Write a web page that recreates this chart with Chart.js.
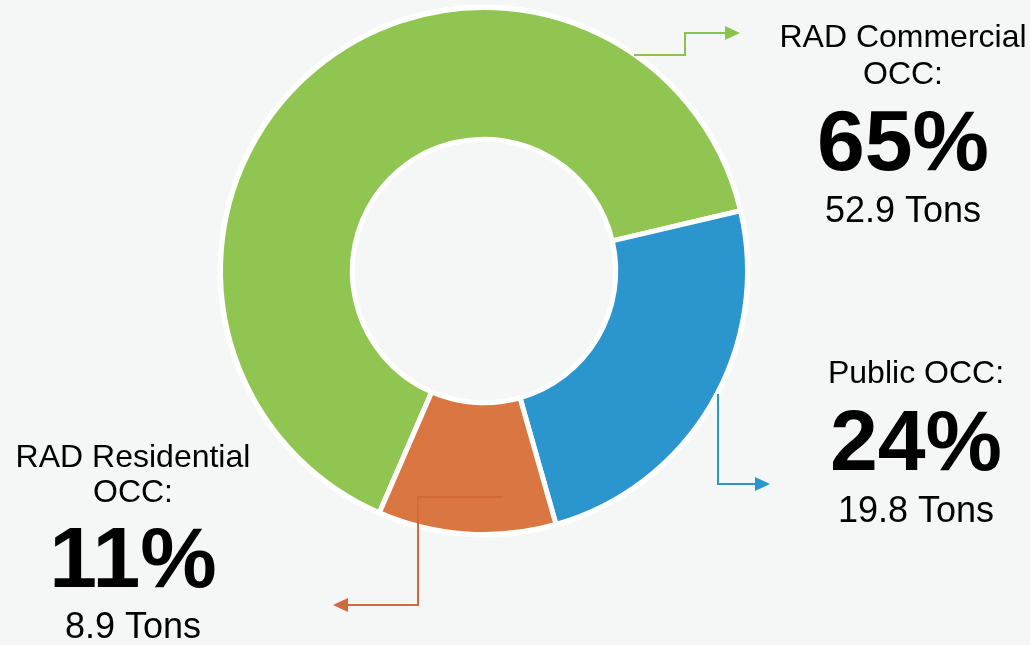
<!DOCTYPE html>
<html lang="en">
<head>
  <meta charset="UTF-8">
  <title>OCC Tonnage Share</title>
  <script src="https://cdn.jsdelivr.net/npm/chart.js"></script>
  <style>
    html, body {
      margin: 0;
      padding: 0;
      background: #f5f7f6;
    }
    .chart-container {
      position: relative;
      width: 1030px;
      height: 645px;
    }
  </style>
</head>
<body>
  <div class="chart-container">
    <canvas id="occ_share"></canvas>
  </div>

  <script>
    // data
    const categories = ['RAD Commercial OCC:', 'Public OCC:', 'RAD Residential OCC:'];
    const tons = [52.9, 19.8, 8.9];
    const percents = [65, 24, 11];
    const colors = ['#8fc550', '#2b95ce', '#d97641'];
    const lineColors = ['#8cc34c', '#2b95ce', '#d2693a'];

    // where each callout sits (label block + elbow arrow)
    const callouts = [
      { x: 903, lines: [47, 84], pct: 170, tons: 222, split: ['RAD Commercial', 'OCC:'],
        path: [[634, 55], [685, 55], [685, 33], [726, 33]], tip: [740, 33], dir: 'right' },
      { x: 916, lines: [383], pct: 470, tons: 522, split: ['Public OCC:'],
        path: [[718, 394], [718, 484], [756, 484]], tip: [770, 484], dir: 'right' },
      { x: 133, lines: [467, 502], pct: 587, tons: 638, split: ['RAD Residential', 'OCC:'],
        path: [[503, 497], [418, 497], [418, 605], [347, 605]], tip: [333, 605], dir: 'left' }
    ];

    const FONT = '"Liberation Sans", Arial, sans-serif';

    // thin white halo round the outer edge, like the original
    const haloPlugin = {
      id: 'halo',
      beforeDatasetsDraw(chart) {
        const arc = chart.getDatasetMeta(0).data[0];
        if (!arc) return;
        const ctx = chart.ctx;
        ctx.save();
        ctx.strokeStyle = '#ffffff';
        ctx.lineWidth = 6;
        ctx.beginPath();
        ctx.arc(arc.x, arc.y, arc.outerRadius, 0, Math.PI * 2);
        ctx.stroke();
        ctx.restore();
      }
    };

    const calloutPlugin = {
      id: 'callouts',
      afterDraw(chart) {
        const ctx = chart.ctx;
        ctx.save();
        callouts.forEach((c, i) => {
          // elbow line
          ctx.strokeStyle = lineColors[i];
          ctx.lineWidth = 2;
          ctx.beginPath();
          c.path.forEach((p, k) => k ? ctx.lineTo(p[0], p[1]) : ctx.moveTo(p[0], p[1]));
          ctx.stroke();
          // arrow head
          const [tx, ty] = c.tip;
          const s = c.dir === 'right' ? -1 : 1;
          ctx.fillStyle = lineColors[i];
          ctx.beginPath();
          ctx.moveTo(tx, ty);
          ctx.lineTo(tx + s * 15, ty - 7);
          ctx.lineTo(tx + s * 15, ty + 7);
          ctx.closePath();
          ctx.fill();

          // text block
          ctx.fillStyle = '#000';
          ctx.textAlign = 'center';
          ctx.textBaseline = 'alphabetic';
          ctx.font = '32px ' + FONT;
          c.split.forEach((t, k) => ctx.fillText(t, c.x, c.lines[k]));
          ctx.font = 'bold 86px ' + FONT;
          ctx.fillText(percents[i] + '%', c.x, c.pct);
          ctx.font = '36px ' + FONT;
          ctx.fillText(tons[i].toFixed(1) + ' Tons', c.x, c.tons);
        });
        ctx.restore();
      }
    };

    new Chart(document.getElementById('occ_share').getContext('2d'), {
      type: 'doughnut',
      data: {
        labels: categories,
        datasets: [{
          data: tons,
          backgroundColor: colors,
          borderColor: '#ffffff',
          borderWidth: 5
        }]
      },
      options: {
        responsive: true,
        maintainAspectRatio: false,
        animation: false,
        rotation: 203.4,
        cutout: '50%',
        layout: {
          padding: { left: 218, right: 280, top: 5, bottom: 108 }
        },
        plugins: {
          legend: { display: false },
          tooltip: { enabled: false }
        }
      },
      plugins: [haloPlugin, calloutPlugin]
    });
  </script>
</body>
</html>
